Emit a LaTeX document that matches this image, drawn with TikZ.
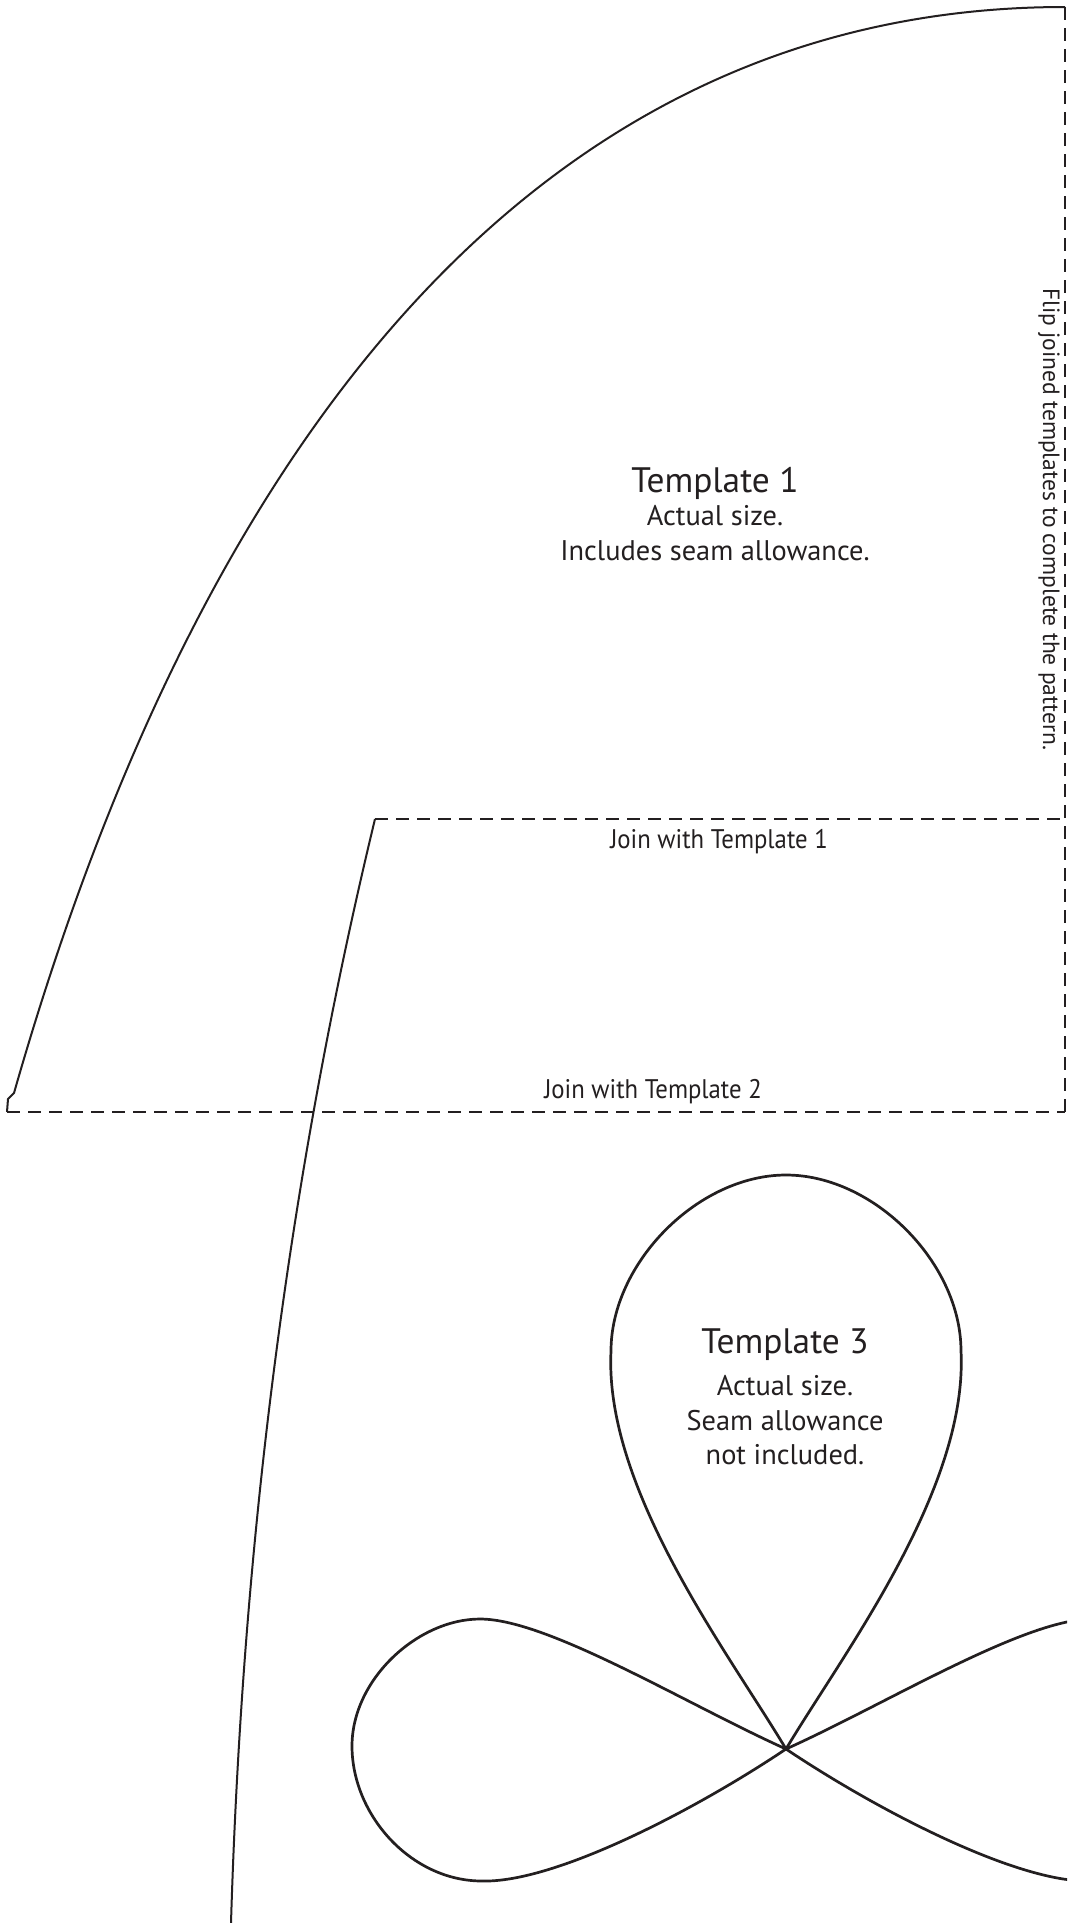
\documentclass[tikz,border=0pt]{standalone}
\usepackage{fontspec}
\setmainfont{PT Sans}
\newfontfamily\condfont[FakeStretch=0.92]{PT Sans}
\definecolor{ink}{RGB}{35,31,32}
\begin{document}
\begin{tikzpicture}[x=1bp,y=-1bp,
  outline/.style={draw=ink, line width=2bp, line join=round},
  seam/.style={draw=ink, line width=2bp, dash pattern=on 13bp off 8bp},
  petal/.style={draw=ink, line width=2.7bp, line join=round},
  title/.style={text=ink, font=\fontsize{35.5}{40}\selectfont, anchor=base, inner sep=0pt},
  body/.style={text=ink, font=\fontsize{28.5}{34}\selectfont, anchor=base, inner sep=0pt},
  joinlbl/.style={text=ink, font=\condfont\fontsize{27}{30}\selectfont, anchor=base, inner sep=0pt},
  fliplbl/.style={text=ink, font=\fontsize{23.6}{28}\selectfont, anchor=base west, inner sep=0pt, rotate=-90}]
\useasboundingbox (0,0) rectangle (1067,1923);
\clip (0,0) rectangle (1067,1923);
\fill[white] (0,0) rectangle (1067,1923);

% corners
\coordinate (t1top) at (1065,7);
\coordinate (t1low) at (14,1093);
\coordinate (t1foot) at (7,1112);
\coordinate (t2corner) at (375,819);
\coordinate (t2bottom) at (231,1923);
\coordinate (rightjoin1) at (1065,819);
\coordinate (rightjoin2) at (1065,1112);

% Template 1 outer curve
\draw[outline] (t1top) .. controls (535,7) and (199,445) .. (t1low)
  -- (8,1099) -- (t1foot);

% Template 2 outer curve
\draw[outline] (t2corner) .. controls (293,1159) and (243,1523) .. (t2bottom);

% seams
\draw[seam] (t1top) -- (rightjoin2);
\draw[seam] (t1foot) -- (rightjoin2);
\draw[seam] (t2corner) -- (rightjoin1);

% Template 3 : teardrop
\coordinate (tip) at (786,1749);
\draw[petal] (tip) .. controls (730,1655) and (604,1490) .. (611,1351)
  .. controls (611,1263) and (698,1175) .. (786,1175)
  .. controls (874,1175) and (961,1263) .. (961,1351)
  .. controls (968,1490) and (842,1655) .. (tip);
% left petal
\draw[petal] (tip) .. controls (686,1704) and (548,1619) .. (480,1619)
  .. controls (418,1619) and (352,1679) .. (352,1746)
  .. controls (352,1815) and (411,1881) .. (482,1881)
  .. controls (555,1883) and (695,1810) .. (tip);
% right petal
\draw[petal] (tip) .. controls (886,1704) and (1024,1619) .. (1092,1619)
  .. controls (1154,1619) and (1220,1679) .. (1220,1746)
  .. controls (1220,1815) and (1161,1881) .. (1090,1881)
  .. controls (1017,1883) and (877,1810) .. (tip);

% texts
\node[title] (t1a) at (715,492) {Template 1};
\node[body] (t1b) at (715,525) {Actual size.};
\node[body] (t1c) at (715,560) {Includes seam allowance.};

\node[joinlbl] (j1) at (719,848) {Join with Template 1};
\node[joinlbl] (j2) at (653,1098) {Join with Template 2};

\node[fliplbl] (flip) at (1043,288) {Flip joined templates to complete the pattern.};

\node[title] (t3a) at (785,1353) {Template 3};
\node[body] (t3b) at (785,1395) {Actual size.};
\node[body] (t3c) at (785,1430) {Seam allowance};
\node[body] (t3d) at (785,1464) {not included.};
\end{tikzpicture}
\end{document}
